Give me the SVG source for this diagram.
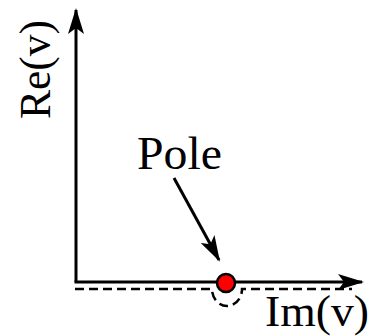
<svg xmlns="http://www.w3.org/2000/svg" width="371" height="336" viewBox="0 0 371 336">
<defs>
<marker id="ah" viewBox="0 0 26 16" refX="24" refY="8" markerWidth="26" markerHeight="16" markerUnits="userSpaceOnUse" orient="auto">
<path d="M0,0 L26,8 L0,16 L6,8 Z" fill="#000"/>
</marker>
</defs>
<style>
.ax{stroke:#000;stroke-width:3;fill:none}
.ds{stroke:#000;stroke-width:2.5;fill:none;stroke-dasharray:9,5}
</style>
<g id="connectors">
<path class="ax" d="M76,282 L76,10" marker-end="url(#ah)"/>
<path class="ax" d="M74.5,282 L362,282" marker-end="url(#ah)"/>
<path class="ds" d="M75,289 L212,289 A15,17 0 0 0 242,289 L352,289"/>
<path class="ax" d="M174,178 L219,260" marker-end="url(#ah)"/>
</g>
<g id="pole">
<circle cx="226" cy="283" r="9" fill="#ff0000" stroke="#000" stroke-width="2.5"/>
</g>
<g id="labels" font-family="'Liberation Serif', serif" fill="#000">
<text x="137" y="169" font-size="46" textLength="85" lengthAdjust="spacingAndGlyphs">Pole</text>
<text x="265" y="326" font-size="44" textLength="104" lengthAdjust="spacingAndGlyphs">Im(v)</text>
<text font-size="44" transform="translate(50,119) rotate(-90)" textLength="99" lengthAdjust="spacingAndGlyphs">Re(v)</text>
</g>
</svg>
